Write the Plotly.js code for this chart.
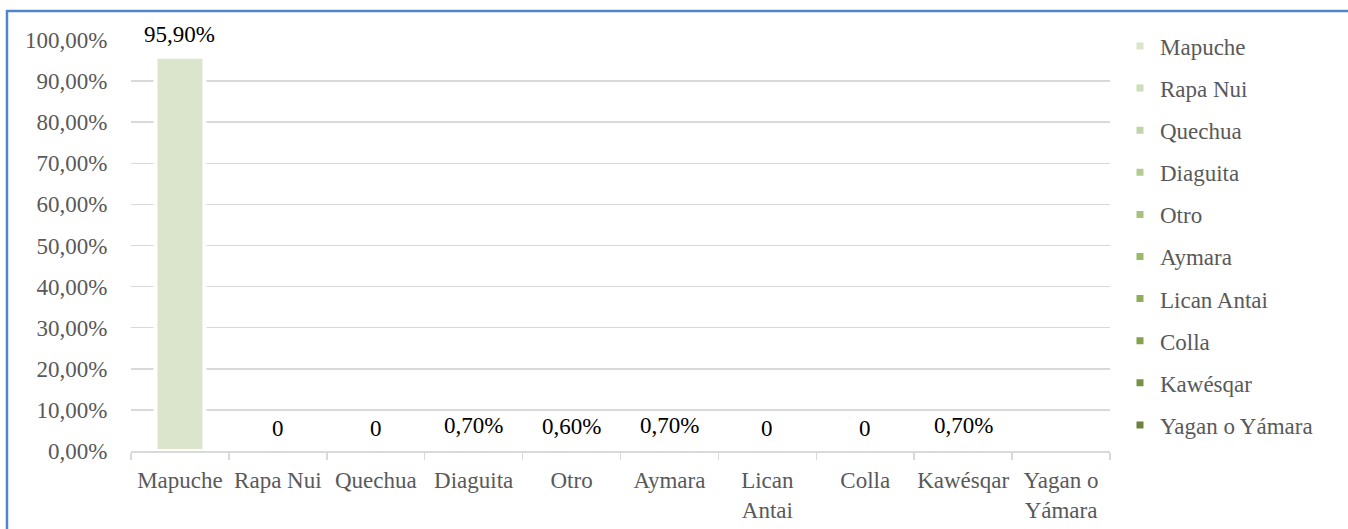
<!DOCTYPE html>
<html>
<head>
<meta charset="utf-8">
<script src="https://cdn.plot.ly/plotly-3.0.1.min.js"></script>
<style>
  html, body { margin: 0; padding: 0; background: #ffffff; overflow: hidden; }
  #chart { width: 1348px; height: 529px; }
</style>
</head>
<body>
<div id="chart"></div>
<script>
// ---- data ----
var categories = ["Mapuche", "Rapa Nui", "Quechua", "Diaguita", "Otro", "Aymara", "Lican Antai", "Colla", "Kawésqar", "Yagan o Yámara"];
var tickLabels = ["Mapuche", "Rapa Nui", "Quechua", "Diaguita", "Otro", "Aymara", "Lican<br>Antai", "Colla", "Kawésqar", "Yagan o<br>Yámara"];
var values = [0.959, 0, 0, 0.007, 0.006, 0.007, 0, 0, 0.007, null];
var valueLabels = ["95,90%", "0", "0", "0,70%", "0,60%", "0,70%", "0", "0", "0,70%", ""];
var seriesColors = ["#DAE5CB", "#CEDDBB", "#C2D5AA", "#B3CC92", "#A5C37C", "#99BB69", "#8EAE5A", "#83A14F", "#789146", "#6B833E"];

var FONT = "'Liberation Serif', 'Times New Roman', Times, serif";
var traces = [];
for (var i = 0; i < categories.length; i++) {
  traces.push({
    type: "bar",
    name: categories[i],
    x: [categories[i]],
    y: [values[i]],
    width: 0.5,
    marker: { color: seriesColors[i], line: { color: "#ffffff", width: 4 } },
    showlegend: false,
    hoverinfo: "skip"
  });
}
// legend entries
for (var j = 0; j < categories.length; j++) {
  traces.push({
    type: "scatter",
    mode: "markers",
    name: categories[j],
    legendgroup: "g" + j,
    x: [null],
    y: [null],
    marker: { symbol: "square", size: 7, color: seriesColors[j] },
    showlegend: true,
    hoverinfo: "skip"
  });
}

var annotations = [];
for (var k = 0; k < categories.length; k++) {
  if (valueLabels[k] === "" || values[k] === null) continue;
  annotations.push({
    x: categories[k],
    y: values[k],
    xref: "x",
    yref: "y",
    text: valueLabels[k],
    showarrow: false,
    yanchor: "bottom",
    yshift: 8,
    font: { family: FONT, size: 23, color: "#000000" }
  });
}

var layout = {
  width: 1348,
  height: 529,
  margin: { l: 131, r: 238, t: 40, b: 78 },
  paper_bgcolor: "#ffffff",
  plot_bgcolor: "#ffffff",
  separators: ",.",
  barmode: "overlay",
  font: { family: FONT, size: 23, color: "#595959" },
  xaxis: {
    type: "category",
    categoryorder: "array",
    categoryarray: categories,
    tickvals: categories,
    ticktext: tickLabels,
    tickangle: 0,
    showline: true,
    linecolor: "#d9d9d9",
    linewidth: 2,
    ticks: "outside",
    tickson: "boundaries",
    ticklen: 7,
    tickwidth: 1.5,
    tickcolor: "#d9d9d9",
    ticklabelstandoff: 7,
    showgrid: false,
    zeroline: false,
    tickfont: { family: FONT, size: 23, color: "#595959" }
  },
  yaxis: {
    range: [0, 1],
    dtick: 0.1,
    tick0: 0,
    tickformat: ".2%",
    showgrid: true,
    gridcolor: "#d9d9d9",
    gridwidth: 1.5,
    zeroline: false,
    showline: false,
    ticks: "outside",
    ticklen: 18,
    tickcolor: "rgba(0,0,0,0)",
    tickfont: { family: FONT, size: 23, color: "#595959" }
  },
  legend: {
    x: 1.0102,
    xanchor: "left",
    y: 1.0376,
    yanchor: "top",
    traceorder: "grouped",
    tracegroupgap: 9.2,
    itemwidth: 30,
    maxheight: 800,
    font: { family: FONT, size: 23, color: "#595959" },
    bgcolor: "rgba(0,0,0,0)"
  },
  annotations: annotations,
  shapes: [{
    type: "rect",
    xref: "paper",
    yref: "paper",
    x0: (7 - 131) / 979,
    x1: (1420 - 131) / 979,
    y0: (451 - 600) / 411,
    y1: (451 - 11) / 411,
    line: { color: "#4F86C9", width: 2.5 },
    fillcolor: "rgba(0,0,0,0)",
    layer: "above"
  }],
  showlegend: true
};

Plotly.newPlot("chart", traces, layout, { displayModeBar: false, staticPlot: true });
</script>
</body>
</html>
